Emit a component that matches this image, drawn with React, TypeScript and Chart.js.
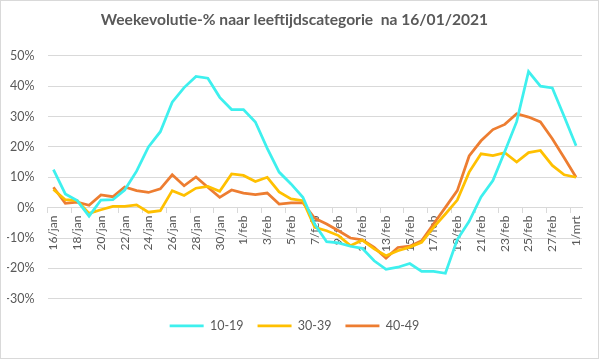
import React, { useEffect, useRef } from 'react';
import { Chart, registerables } from 'chart.js';

Chart.register(...registerables);

const xLabels = [
  '16/jan', '17/jan', '18/jan', '19/jan', '20/jan', '21/jan', '22/jan', '23/jan',
  '24/jan', '25/jan', '26/jan', '27/jan', '28/jan', '29/jan', '30/jan', '31/jan',
  '1/feb', '2/feb', '3/feb', '4/feb', '5/feb', '6/feb', '7/feb', '8/feb', '9/feb',
  '10/feb', '11/feb', '12/feb', '13/feb', '14/feb', '15/feb', '16/feb', '17/feb',
  '18/feb', '19/feb', '20/feb', '21/feb', '22/feb', '23/feb', '24/feb', '25/feb',
  '26/feb', '27/feb', '28/feb', '1/mrt',
];

const age10_19 = [
  12.5, 4.5, 2.3, -2.8, 2.5, 2.6, 5.8, 12, 20, 25, 34.7, 39.5, 43.2, 42.6, 36.3, 32.3,
  32.3, 28.2, 19.5, 11.7, 7.8, 3.4, -5.5, -11.2, -11.6, -12.7, -13.4, -17.5, -20.3, -19.6,
  -18.4, -21, -21, -21.6, -10.5, -4.5, 3.5, 8.9, 18.5, 28.3, 44.8, 40, 39.4, 30, 20.4,
];

const age30_39 = [
  6, 2.6, 2.3, -1.9, -0.7, 0.4, 0.4, 0.9, -1.5, -1, 5.6, 4, 6.4, 7, 5.4, 11.1,
  10.6, 8.6, 10, 5.2, 2.9, 2.3, -6.5, -7.6, -9.2, -12.5, -10.7, -13.6, -15.8, -14.2,
  -13, -11.4, -6.5, -2.1, 2.5, 11.7, 17.7, 17.1, 18.1, 15, 18.1, 18.8, 13.9, 10.8, 10,
];

const age40_49 = [
  6.7, 1.4, 1.8, 0.8, 4.2, 3.6, 6.8, 5.6, 5, 6.2, 10.8, 7.2, 10.1, 6.7, 3.4, 5.8,
  4.8, 4.3, 4.8, 1.2, 1.6, 1.6, -3.5, -5.4, -7.6, -10, -10.6, -13.1, -16.6, -13.1,
  -12.7, -10.9, -5.4, 0.1, 5.6, 17, 22, 25.7, 27.4, 30.9, 29.8, 28.2, 22.7, 16.4, 10,
];

const seriesNames = ['10-19', '30-39', '40-49'];
const seriesColors = ['#3EF0EE', '#FFC000', '#ED7D31'];
const titleText = 'Weekevolutie-% naar leeftijdscategorie  na 16/01/2021';

const FONT = 'Lato, "Open Sans", sans-serif';
const TEXT = '#595959';
const GRID = '#d9d9d9';

export default function App() {
  const ref = useRef<HTMLCanvasElement>(null);

  useEffect(() => {
    document.body.style.margin = '0';
    const canvas = ref.current;
    if (!canvas) return;
    const seriesData = [age10_19, age30_39, age40_49];
    const chart = new Chart(canvas, {
      type: 'line',
      data: {
        labels: xLabels,
        datasets: seriesNames.map((name, i) => ({
          label: name,
          data: seriesData[i],
          borderColor: seriesColors[i],
          backgroundColor: seriesColors[i],
          borderWidth: 2.75,
          pointRadius: 0,
          tension: 0,
          fill: false,
        })),
      },
      options: {
        animation: false,
        responsive: false,
        devicePixelRatio: 1,
        layout: { padding: { left: 6, right: 16, top: 0, bottom: 16 } },
        plugins: {
          title: {
            display: true,
            text: titleText,
            color: TEXT,
            font: { family: FONT, size: 15.6, weight: 'bold' },
            padding: { top: 10, bottom: 26 },
          },
          legend: {
            position: 'bottom',
            title: {
              display: true,
              text: '',
              font: { size: 1 },
              padding: { top: 5.5, bottom: 0 },
            },
            labels: {
              usePointStyle: true,
              pointStyle: 'line',
              pointStyleWidth: 34,
              boxHeight: 12,
              color: TEXT,
              font: { family: FONT, size: 12.5 },
              padding: 14,
            },
          },
          tooltip: { enabled: false },
        },
        scales: {
          x: {
            type: 'category',
            position: { y: 0 } as any,
            offset: true,
            grid: {
              offset: true,
              drawOnChartArea: false,
              drawTicks: true,
              tickLength: 5,
              color: (c: any) => (c.index % 2 === 0 ? GRID : 'rgba(0,0,0,0)'),
            },
            border: { display: true, color: GRID, width: 1 },
            ticks: {
              autoSkip: false,
              maxRotation: 90,
              minRotation: 90,
              padding: 3,
              color: TEXT,
              font: { family: FONT, size: 12 },
              callback: (_v: any, i: number) => (i % 2 === 0 ? xLabels[i] : ''),
            },
          },
          y: {
            min: -30,
            max: 50,
            ticks: {
              stepSize: 10,
              padding: 13,
              color: TEXT,
              font: { family: FONT, size: 12.5 },
              callback: (v: any) => v + '%',
            },
            grid: { color: GRID, drawTicks: false },
            border: { display: false },
            afterFit: (s: any) => {
              s.width = 40.5;
            },
          },
        },
      },
    });
    return () => chart.destroy();
  }, []);

  return (
    <div
      style={{
        width: 599,
        height: 359,
        boxSizing: 'border-box',
        border: '1px solid #d9d9d9',
        background: '#fff',
      }}
    >
      <canvas ref={ref} width={597} height={357} style={{ display: 'block' }} />
    </div>
  );
}
